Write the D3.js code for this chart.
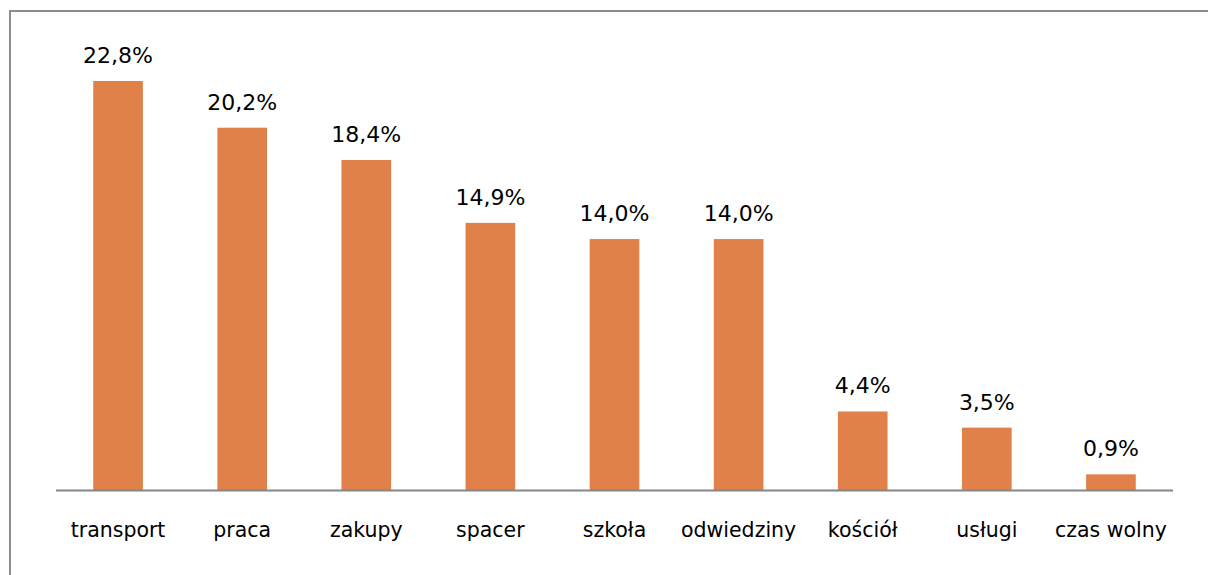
<!DOCTYPE html>
<html>
<head>
<meta charset="utf-8">
<script src="https://d3js.org/d3.v7.min.js"></script>
<style>
  html, body { margin: 0; padding: 0; background: #fff; }
  svg { display: block; }
</style>
</head>
<body>
<div id="chart"></div>
<script>
    // categories and values (percent)
    var categories = ["transport", "praca", "zakupy", "spacer", "szkoła", "odwiedziny", "kościół", "usługi", "czas wolny"];
    var values = [22.8, 20.2, 18.4, 14.9, 14.0, 14.0, 4.4, 3.5, 0.9];
    var labels = ["22,8%", "20,2%", "18,4%", "14,9%", "14,0%", "14,0%", "4,4%", "3,5%", "0,9%"];

    var width = 1208, height = 575;

    const svg = d3.select("#chart").append("svg")
        .attr("width", width)
        .attr("height", height);

    // outer frame (runs off the right and bottom edges)
    svg.append("rect")
        .attr("x", 10)
        .attr("y", 11)
        .attr("width", 1220)
        .attr("height", 600)
        .attr("fill", "none")
        .attr("stroke", "#8c8c8c")
        .attr("stroke-width", 2);

    var x = d3.scaleBand()
        .domain(categories)
        .range([56, 1173])
        .paddingInner(0.6)
        .paddingOuter(0.3);

    var y = d3.scaleLinear()
        .domain([0, 25])
        .range([490.5, 41.5]);

    svg.selectAll("rect.bar")
        .data(values)
        .enter().append("rect")
        .attr("class", "bar")
        .attr("x", (d, i) => x(categories[i]))
        .attr("y", d => y(d))
        .attr("width", x.bandwidth())
        .attr("height", d => y(0) - y(d))
        .attr("fill", "#df8149");

    // baseline
    svg.append("line")
        .attr("x1", 56).attr("x2", 1173)
        .attr("y1", y(0)).attr("y2", y(0))
        .attr("stroke", "#868686")
        .attr("stroke-width", 2);

    // value labels
    svg.selectAll("text.val")
        .data(values)
        .enter().append("text")
        .attr("class", "val")
        .attr("x", (d, i) => x(categories[i]) + x.bandwidth() / 2)
        .attr("y", d => y(d) - 18)
        .attr("text-anchor", "middle")
        .attr("font-family", "DejaVu Sans")
        .attr("font-size", "22px")
        .attr("fill", "#000")
        .text((d, i) => labels[i]);

    // category labels
    svg.selectAll("text.cat")
        .data(categories)
        .enter().append("text")
        .attr("class", "cat")
        .attr("x", d => x(d) + x.bandwidth() / 2)
        .attr("y", 537)
        .attr("text-anchor", "middle")
        .attr("font-family", "DejaVu Sans")
        .attr("font-size", "20.5px")
        .attr("fill", "#000")
        .text(d => d);
</script>
</body>
</html>
